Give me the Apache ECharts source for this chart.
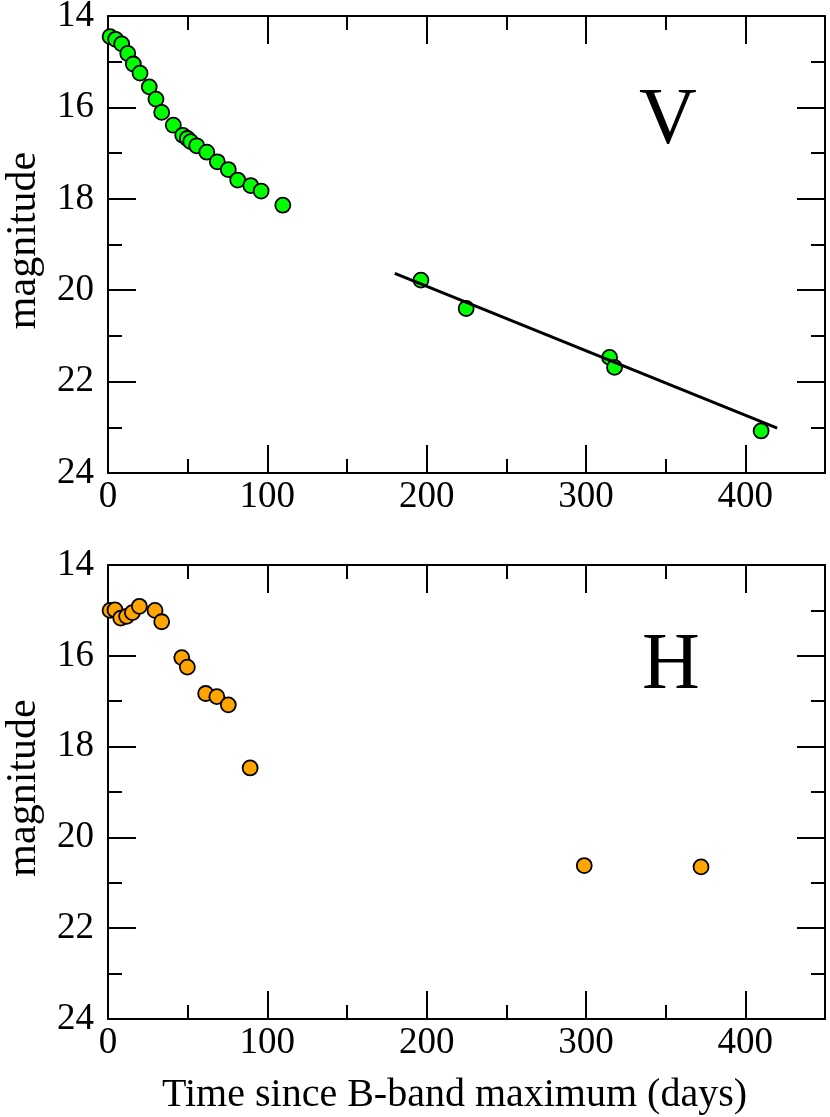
<!DOCTYPE html>
<html>
<head>
<meta charset="utf-8">
<script src="https://cdn.jsdelivr.net/npm/echarts@6/dist/echarts.min.js"></script>
<style>
  html, body { margin: 0; padding: 0; background: #fff; }
  #chart { width: 830px; height: 1117px; }
</style>
</head>
<body>
<div id="chart"></div>
<script>
// V band light curve (days since B max, magnitude)
const vDays = [1.3, 4.8, 8.6, 12.4, 15.9, 20.1, 25.9, 30.1, 33.7, 41.0, 46.9, 49.8, 51.9,
  55.7, 62.0, 68.6, 75.5, 81.4, 89.6, 96.1, 109.7, 196.4, 224.8, 314.8, 317.9, 409.9];
const vMag = [14.45, 14.51, 14.61, 14.82, 15.05, 15.25, 15.55, 15.82, 16.11, 16.39, 16.61, 16.68, 16.75,
  16.84, 16.98, 17.19, 17.36, 17.59, 17.71, 17.83, 18.14, 19.78, 20.40, 21.47, 21.69, 23.08];

// linear decline fit on the late V points
const fitDays = [180, 420];
const fitMag = [19.63, 23.02];

// H band light curve
const hDays = [1.3, 4.4, 8.0, 11.7, 15.3, 19.7, 29.5, 33.7, 46.3, 49.8, 61.3, 68.3, 75.5, 89.2, 298.9, 372.2];
const hMag = [15.00, 14.99, 15.17, 15.13, 15.05, 14.91, 15.00, 15.25, 16.04, 16.25, 16.83, 16.90, 17.08, 18.47, 20.62, 20.65];

const xTicks = { min: 0, max: 450, major: 100, minor: 50 };
const yTicks = { min: 14, max: 24, major: 2, minor: 1 };
const bandNames = ['V', 'H'];

const FONT = '"Liberation Serif", "Times New Roman", serif';
const pairs = (xs, ys) => xs.map((x, i) => [x, ys[i]]);

const grids = [
  { left: 108, top: 16, width: 717, height: 457, outerBoundsMode: 'none', containLabel: false },
  { left: 108, top: 565, width: 717, height: 454, outerBoundsMode: 'none', containLabel: false }
];

const xAxes = [];
const yAxes = [];
grids.forEach((g, gi) => {
  ['bottom', 'top'].forEach(pos => {
    const main = pos === 'bottom';
    xAxes.push({
      type: 'value', gridIndex: gi, position: pos,
      min: xTicks.min, max: xTicks.max, interval: xTicks.major,
      axisLine: { show: true, onZero: false, lineStyle: { color: '#000', width: 2 } },
      axisTick: { show: true, inside: true, length: 28, lineStyle: { color: '#000', width: 2 } },
      axisLabel: {
        show: main, color: '#000', fontFamily: FONT, fontSize: 37, margin: 6,
        formatter: v => (v % 100 === 0 && v < 450 ? String(v) : '')
      },
      splitLine: { show: false },
      name: main && gi === 1 ? 'Time since B-band maximum (days)' : '',
      nameLocation: 'middle', nameGap: 56,
      nameTextStyle: { color: '#000', fontFamily: FONT, fontSize: 40, padding: [0, 24, 0, 0] }
    });
    xAxes.push({
      type: 'value', gridIndex: gi, position: pos,
      min: xTicks.min, max: xTicks.max, interval: xTicks.minor,
      axisLine: { show: false, onZero: false },
      axisTick: { show: true, inside: true, length: 14, lineStyle: { color: '#000', width: 2 } },
      axisLabel: { show: false },
      splitLine: { show: false }
    });
  });
  ['left', 'right'].forEach(pos => {
    const main = pos === 'left';
    yAxes.push({
      type: 'value', gridIndex: gi, position: pos, inverse: true,
      min: yTicks.min, max: yTicks.max, interval: yTicks.major,
      axisLine: { show: true, onZero: false, lineStyle: { color: '#000', width: 2 } },
      axisTick: { show: true, inside: true, length: 28, lineStyle: { color: '#000', width: 2 } },
      axisLabel: { show: main, color: '#000', fontFamily: FONT, fontSize: 37, margin: 14 },
      splitLine: { show: false },
      name: main ? 'magnitude' : '',
      nameLocation: 'middle', nameGap: 63,
      nameTextStyle: { color: '#000', fontFamily: FONT, fontSize: 42, padding: [0, 0, 0, 8] }
    });
    yAxes.push({
      type: 'value', gridIndex: gi, position: pos, inverse: true,
      min: yTicks.min, max: yTicks.max, interval: yTicks.minor,
      axisLine: { show: false, onZero: false },
      axisTick: { show: true, inside: true, length: 14, lineStyle: { color: '#000', width: 2 } },
      axisLabel: { show: false },
      splitLine: { show: false }
    });
  });
});

const dot = color => ({ color: color, opacity: 1, borderColor: '#000', borderWidth: 1.8 });

const option = {
  animation: false,
  backgroundColor: '#fff',
  grid: grids,
  xAxis: xAxes,
  yAxis: yAxes,
  graphic: [
    { type: 'text', left: 639, top: 82, style: { text: bandNames[0], font: '80px ' + FONT, fill: '#000' } },
    { type: 'text', left: 642, top: 627, style: { text: bandNames[1], font: '80px ' + FONT, fill: '#000' } }
  ],
  series: [
    {
      type: 'line', xAxisIndex: 0, yAxisIndex: 0,
      data: pairs(fitDays, fitMag), symbol: 'none',
      lineStyle: { color: '#000', width: 3 }
    },
    {
      type: 'scatter', xAxisIndex: 0, yAxisIndex: 0, clip: false,
      data: pairs(vDays, vMag), symbolSize: 15,
      itemStyle: dot('#00ff00')
    },
    {
      type: 'scatter', xAxisIndex: 4, yAxisIndex: 4, clip: false,
      data: pairs(hDays, hMag), symbolSize: 15,
      itemStyle: dot('#ffa500')
    }
  ]
};

const chart = echarts.init(document.getElementById('chart'));
chart.setOption(option);
</script>
</body>
</html>
